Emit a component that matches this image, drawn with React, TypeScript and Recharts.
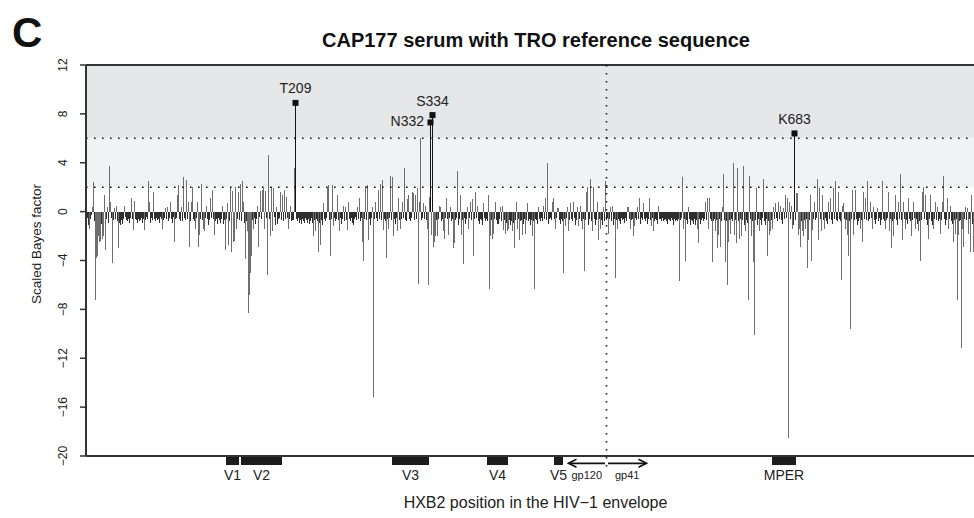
import { ComposedChart, Bar, XAxis, YAxis, ReferenceArea, ReferenceLine } from 'recharts'

const FONT = '"Liberation Sans", Arial, Helvetica, sans-serif'

// scaled Bayes factor per alignment site (sites 1-888, left to right)
const scores1 = [
  3.4, -0.5, -1.1, -1.4, -0.6, -0.3, 0.4, 2.4, -0.8, -7.2,
  -3.8, -3.6, -2.0, -2.5, -2.4, -1.0, -2.2, -2.0, 1.4, -3.1,
  -0.6, 0.4, -0.9, 3.7, 0.8, -0.5, -4.2, -0.7, 0.3, -0.6,
  0.5, -0.8, -3.0, -0.9, -1.1, -0.7, -1.0, -0.6, 0.5, -0.4,
  -0.7, -0.8, -0.6, -0.9, -0.5, 1.1, -0.6, -1.5, 0.9, -0.6,
  -0.7, -0.9, -0.6, -0.8, -0.7, -0.5, -0.9, -0.6, -1.5, -0.7,
  -0.4, -0.6, 2.5, 0.8, -0.9, -0.5, -0.7, 1.6, -0.6, -0.8,
  -0.5, -0.7, -0.6, -0.9, -0.4, -0.6, -1.4, -0.7, -0.5, 0.3,
  -0.6, 0.4, -0.8, -0.5, 0.8, -0.6, -0.9, -0.4, -2.5, -0.6,
  -0.5, 1.4, 2.2, -0.6, -0.8, 0.4, -0.8, 2.8, -0.5, -0.7,
]
const scores2 = [
  2.6, -0.6, 0.8, -2.9, -0.8, 0.8, 2.0, -0.6, -0.8, -1.4,
  -0.5, 0.8, -2.9, -1.9, -0.6, 2.3, -0.7, -1.4, -1.6, -0.5,
  0.5, -0.6, -1.1, -0.7, 1.1, -0.5, 1.8, -0.6, -1.9, -0.8,
  -0.6, -1.0, -0.5, -0.7, -0.9, -0.6, 0.5, -1.0, -0.7, -3.1,
  -0.6, 0.7, -2.7, -0.8, 1.9, -3.3, 1.7, -2.5, -2.4, 2.0,
  -1.4, -0.6, 1.6, -0.7, 2.3, -0.8, 2.5, 0.8, -0.9, -3.9,
  -0.8, -1.6, -8.3, -6.8, -5.0, -3.6, -0.7, -1.4, -0.5, -1.0,
  -0.6, 0.5, -2.9, -0.4, 1.7, -0.6, 1.8, 1.9, -1.4, 1.7,
  -0.5, -5.2, 4.6, -0.6, -2.0, 2.0, -1.6, 1.9, -0.4, -1.1,
  0.4, -1.0, -0.6, -0.5, 1.6, -0.7, 1.4, -0.8, 1.8, -0.6,
]
const scores3 = [
  1.2, -0.5, -1.4, -0.6, 0.5, -0.8, -0.7, -0.7, 3.6, 8.9,
  -0.6, -0.8, -0.5, -0.9, -0.7, -1.0, -0.6, -0.8, -0.9, -0.5,
  -0.7, -0.9, -0.6, -1.0, -0.8, -0.5, -0.9, -2.0, -0.7, -1.6,
  -0.6, -0.8, -3.3, -0.9, -2.7, -0.7, -1.1, 0.7, -0.6, -0.8,
  -0.5, 1.9, 2.2, -0.7, -3.6, -0.6, 2.2, -1.2, -0.5, -0.8,
  -0.6, 1.4, -0.7, -1.6, -0.5, -1.0, -0.6, 0.5, -0.8, 0.4,
  -0.7, -1.5, 0.8, -0.6, -0.8, -0.5, -0.9, -1.1, -0.6, -0.4,
  -0.7, 0.4, -0.6, 1.1, -0.8, -0.5, -2.5, -4.0, -0.6, 2.1,
  -0.7, 2.2, -2.3, -0.6, -1.1, -0.5, 0.4, -15.2, -0.6, 0.8,
  -0.5, -0.8, 1.8, -0.6, 2.3, -0.7, 2.6, -1.5, -0.6, -0.8,
]
const scores4 = [
  -3.8, -0.6, -1.4, -0.5, 2.9, -0.7, 2.8, -2.0, -0.6, -1.0,
  -0.5, -1.6, 1.1, -0.7, -1.4, -0.6, 0.8, -0.5, 3.6, -0.7,
  -0.8, 1.0, 1.4, -0.6, -0.8, -0.5, 1.6, 1.5, -0.7, 1.4,
  -0.6, 1.9, -5.9, 0.8, 6.0, -0.7, -0.5, 0.7, -0.6, 0.5,
  -0.7, -1.4, -6.0, 1.2, 7.3, -1.9, 7.9, -2.9, -2.5, -2.0,
  -0.7, -2.0, -0.6, 0.5, 0.4, -0.8, -0.6, -1.6, -2.2, -0.5,
  1.1, -0.6, -1.9, -0.5, 0.4, -0.8, -0.6, -3.0, -2.6, -0.7,
  -0.5, 3.3, -1.1, -0.6, 1.4, -1.9, -0.7, -4.3, -0.5, -1.0,
  -0.6, 0.4, -1.4, -0.5, 0.8, -0.7, 1.0, -3.6, -0.6, 1.6,
  -0.5, 0.5, -0.8, -1.0, -0.6, -0.7, -1.1, 0.7, -0.5, -0.8,
]
const scores5 = [
  -0.6, -0.8, 1.4, -6.3, -2.0, -0.7, -2.2, -1.8, -0.6, 0.8,
  -0.7, -1.0, -1.0, -0.6, 0.4, -0.8, 0.5, -1.5, -0.7, -1.8,
  -0.9, -1.6, -1.4, -0.7, -1.1, -0.8, -1.6, -0.9, -3.0, -0.7,
  0.8, -1.4, -0.6, -2.3, -0.8, -0.7, -1.9, -1.0, -0.6, -1.8,
  -0.7, 0.7, -0.8, -0.6, -1.1, -0.7, -2.0, -0.8, -6.3, -0.6,
  -0.7, -1.0, 0.4, -0.6, -0.8, -0.5, -0.8, 0.5, -0.6, 1.1,
  -0.7, 4.0, -1.0, -0.6, -0.5, -0.7, 0.8, 1.1, -0.6, -1.4,
  -0.5, 0.3, 0.3, -0.7, -1.0, -0.6, -0.8, -5.0, -0.6, -1.2,
  -0.5, 0.4, -1.6, -0.7, 0.7, -0.6, -0.8, 0.8, -0.5, -1.1,
  -0.7, 0.4, -1.2, -0.6, 0.5, -0.8, -1.4, -0.6, -4.9, -0.7,
]
const scores6 = [
  1.6, 2.0, -1.1, -0.6, 2.7, -0.8, -1.6, 2.0, -0.6, -1.1,
  -0.7, 0.8, -2.3, -0.6, -1.4, -0.7, -1.1, 0.4, -0.8, 2.5,
  -0.7, -0.5, -1.8, -0.6, 0.4, -0.8, 0.5, -1.1, -0.6, -5.4,
  -0.7, -1.4, -0.6, -0.8, -1.0, -0.5, -0.7, -0.6, -0.9, -0.5,
  -0.8, 0.4, 0.4, -0.6, -1.4, -0.7, -0.6, -2.0, -1.2, -0.5,
  -0.7, 0.4, -0.6, 1.1, -1.0, -0.5, -0.7, 0.7, -0.6, -0.8,
  -0.5, -1.0, -0.6, 1.1, -0.7, -1.2, -0.5, -1.6, -0.8, -0.6,
  -0.7, -1.0, 0.5, -0.6, -0.6, -0.8, -0.5, -0.8, -0.7, -0.6,
  -0.8, -1.0, -0.6, -0.7, -0.8, -0.5, -0.7, -1.1, -0.6, -0.8,
  -0.7, -0.8, -0.6, -5.7, -0.7, -0.5, 2.8, -1.4, -0.6, -4.0,
]
const scores7 = [
  -0.7, -1.0, 0.4, -0.6, -1.1, -0.7, -0.8, -1.0, -0.6, -1.1,
  -0.7, -1.4, -2.6, -0.6, -1.0, -0.7, -0.5, -0.8, -0.6, 0.8,
  -0.7, 1.1, -1.4, 1.1, -0.6, -0.8, -4.1, -0.8, -0.6, -1.6,
  -0.7, -3.0, -1.9, -0.6, -2.9, -0.8, 0.4, 3.1, -0.7, -4.1,
  -0.8, -6.0, -2.5, -0.7, -1.8, -0.6, -0.8, 4.0, -1.9, -0.7,
  -2.6, 3.6, -0.8, -2.2, -0.6, -2.0, -0.7, 3.7, -1.1, -1.6,
  -0.7, -0.9, -7.2, 2.9, -0.6, -2.0, -0.8, -4.1, -10.1, -0.7,
  1.9, -1.1, -0.6, -1.6, -0.7, -1.1, -0.5, 2.7, -0.8, -1.1,
  -0.6, -3.6, -0.8, -1.9, -1.6, -0.7, -1.4, 0.4, -0.6, 0.7,
  -0.5, -0.8, 0.8, -0.6, 0.5, -0.7, -1.0, 0.3, -0.6, 1.4,
]
const scores8 = [
  -0.5, 1.1, -18.5, 0.8, -0.6, 0.5, -1.4, -1.1, 6.4, -0.7,
  1.5, 1.5, -1.9, -1.4, -2.9, -0.8, -1.6, -2.0, -0.7, -1.4,
  -0.6, -4.6, -2.3, -0.7, 1.4, -4.0, -1.5, -0.6, 0.8, -0.7,
  -0.5, 2.7, -2.3, 1.9, -0.6, -1.6, 1.4, -0.7, -1.4, -0.5,
  -0.8, -1.0, 0.8, -0.6, 1.1, -0.7, -1.0, 1.9, -0.6, 2.5,
  -0.7, -0.8, 1.6, -0.6, -0.8, -5.6, 0.5, 0.7, -0.6, -1.4,
  -0.7, -1.9, -3.6, -0.8, -9.6, -0.6, 1.8, -1.9, -0.7, 1.8,
  -0.6, -1.1, -0.8, -0.5, -1.4, -0.7, -2.5, 1.6, -0.6, 1.1,
  -0.7, 2.5, -0.8, -0.6, 0.8, -0.5, -1.4, 0.4, -0.7, -1.0,
  -0.6, 0.3, -0.8, -0.5, -1.1, -0.7, 2.5, -0.6, -0.8, -1.4,
]
const scores9 = [
  -0.7, -0.5, 1.6, -1.6, -0.6, -3.0, -0.8, -2.0, -0.6, 1.4,
  -0.7, -1.1, 0.8, -0.6, 3.1, -0.7, -2.3, 0.8, -0.6, -1.4,
  -0.7, -1.0, 1.1, -0.6, -0.8, -2.0, -0.7, 0.8, -0.5, -1.4,
  -0.6, -1.0, -1.6, -0.8, -4.0, -0.7, 1.6, 2.0, -0.6, 1.4,
  -0.7, -1.1, -2.2, -0.6, 1.4, -0.8, -1.1, -1.4, -0.6, 0.8,
  -0.7, 0.4, -0.8, -0.6, -1.8, -0.7, 0.8, 2.9, -0.6, -1.1,
  -0.7, 1.1, -1.4, -0.6, 0.5, -0.8, -1.0, -2.5, -0.7, -1.8,
  -0.6, -7.2, -1.9, -0.8, -0.7, -11.2, -1.4, -2.9, -0.6, 0.4,
  -0.7, 0.3, -1.8, -0.6, -3.3, 1.4, -1.0, -3.3,
]

// labelled sites (alignment site -> HXB2 residue)
const hits = [
  { site: 210, tag: 'T209' },
  { site: 345, tag: 'N332' },
  { site: 347, tag: 'S334' },
  { site: 709, tag: 'K683' },
]
const leftLabelled = ['N332']

const regions = [
  { name: 'V1', from: 141, to: 153 },
  { name: 'V2', from: 156, to: 196 },
  { name: 'V3', from: 307, to: 343 },
  { name: 'V4', from: 402, to: 422 },
  { name: 'V5', from: 469, to: 477 },
  { name: 'MPER', from: 687, to: 710 },
]

const gpBoundary = 521
const gp120Start = 483
const gp41End = 561
const siteCount = 899

const yTicks = [-20, -16, -12, -8, -4, 0, 4, 8, 12]
const cutWeak = 2
const cutStrong = 6

const scores = [...scores1, ...scores2, ...scores3, ...scores4, ...scores5, ...scores6, ...scores7, ...scores8, ...scores9]
const rows = scores.map((score, i) => ({ site: i + 1, score }))
const hitTag = new Map(hits.map((h) => [h.site, h.tag]))

const minus = (v: number) => String(v).replace('-', '\u2212')

function Stem(props: any) {
  const { x, y, width, height, payload } = props
  const top = height < 0 ? y + height : y
  const h = Math.max(Math.abs(height), 0.6)
  const cx = Math.round(x + width / 2 - 0.5)
  const v = payload.score
  const tag = hitTag.get(payload.site)
  const fill = tag ? '#151515' : v < 0 && v > -1.2 ? '#2f2f2f' : '#6e6e6e'
  return (
    <g>
      <rect x={cx} y={top} width={1} height={h} fill={fill} shapeRendering="crispEdges" />
      {tag && (
        <>
          <rect x={cx - 2.5} y={y - 3} width={6} height={6} fill="#111" />
          {leftLabelled.includes(tag) ? (
            <text x={cx - 6} y={y + 4} textAnchor="end" fontSize={14} fill="#222" fontFamily={FONT}>
              {tag}
            </text>
          ) : (
            <text x={cx + 0.5} y={y - 9.5} textAnchor="middle" fontSize={14} fill="#222" fontFamily={FONT}>
              {tag}
            </text>
          )}
        </>
      )}
    </g>
  )
}

function YTick({ x, y, payload }: any) {
  const bx = x - 11.5
  return (
    <text x={bx} y={y} transform={`rotate(-90 ${bx} ${y})`} textAnchor="middle" fontSize={12} fill="#222" fontFamily={FONT}>
      {minus(payload.value)}
    </text>
  )
}

const gpArrow = (label: string) => (p: any) => {
  const { x1, y1, x2, y2 } = p
  const dir = Math.sign(x2 - x1)
  return (
    <g>
      <line x1={x1} y1={y1} x2={x2} y2={y2} stroke="#111" strokeWidth={1.6} />
      <polyline
        points={`${x2 - dir * 8},${y2 - 4} ${x2},${y2} ${x2 - dir * 8},${y2 + 4}`}
        fill="none"
        stroke="#111"
        strokeWidth={1.6}
      />
      <text x={(x1 + x2) / 2} y={y1 + 16} textAnchor="middle" fontSize={11} fill="#222" fontFamily={FONT}>
        {label}
      </text>
    </g>
  )
}

export default function App() {
  return (
    <div style={{ position: 'absolute', left: 0, top: 0, width: 974, height: 518, overflow: 'hidden', background: '#fff' }}>
      <ComposedChart width={990} height={518} data={rows} margin={{ top: 65, right: 5, bottom: 0, left: 50 }}>
        <ReferenceArea y1={cutStrong} y2={12} fill="#e6e7e9" fillOpacity={1} stroke="none" />
        <ReferenceArea y1={cutWeak} y2={cutStrong} fill="#f1f2f4" fillOpacity={1} stroke="none" />
        <XAxis
          dataKey="site"
          type="number"
          domain={[0.5, siteCount + 0.5]}
          allowDataOverflow
          tick={false}
          tickLine={false}
          axisLine={false}
          height={62}
          label={{ value: 'HXB2 position in the HIV\u22121 envelope', position: 'insideBottom', offset: 10, fontSize: 16, fill: '#222', fontFamily: FONT }}
        />
        <YAxis
          type="number"
          domain={[-20, 12]}
          ticks={yTicks}
          width={36}
          tickSize={6}
          tick={<YTick />}
          axisLine={{ stroke: '#333', strokeWidth: 2 }}
          tickLine={{ stroke: '#333', strokeWidth: 1.5 }}
        />
        <Bar dataKey="score" barSize={1} shape={<Stem />} isAnimationActive={false} />
        <ReferenceLine y={cutStrong} stroke="#111" strokeWidth={1.6} strokeDasharray="1.6 6.4" />
        <ReferenceLine y={cutWeak} stroke="#111" strokeWidth={1.6} strokeDasharray="1.6 6.4" />
        <ReferenceLine y={12} stroke="#333" strokeWidth={2} />
        <ReferenceLine y={-20} stroke="#333" strokeWidth={2} />
        <ReferenceLine
          segment={[{ x: gpBoundary, y: 12 }, { x: gpBoundary, y: -20.85 }]}
          ifOverflow="visible"
          stroke="#111"
          strokeWidth={1.6}
          strokeDasharray="1.6 6.4"
        />
        {regions.map((r) => (
          <ReferenceArea
            key={r.name}
            x1={r.from - 0.5}
            x2={r.to + 0.5}
            y1={-20}
            y2={-20.74}
            ifOverflow="visible"
            fill="#1c1c1c"
            fillOpacity={1}
            stroke="none"
            label={{ value: r.name, position: 'bottom', offset: 5, fontSize: 14, fill: '#222', fontFamily: FONT }}
          />
        ))}
        <ReferenceLine
          segment={[{ x: gpBoundary - 1.5, y: -20.6 }, { x: gp120Start, y: -20.6 }]}
          ifOverflow="visible"
          shape={gpArrow('gp120')}
        />
        <ReferenceLine
          segment={[{ x: gpBoundary + 1.5, y: -20.6 }, { x: gp41End, y: -20.6 }]}
          ifOverflow="visible"
          shape={gpArrow('gp41')}
        />
      </ComposedChart>
      <svg width={974} height={518} style={{ position: 'absolute', left: 0, top: 0, pointerEvents: 'none' }}>
        <text x={12} y={47} fontSize={42} fontWeight="bold" fill="#111" fontFamily={FONT}>
          C
        </text>
        <text x={536} y={47} textAnchor="middle" fontSize={20} fontWeight="bold" fill="#111" fontFamily={FONT}>
          CAP177 serum with TRO reference sequence
        </text>
        <text x={41} y={244} transform="rotate(-90 41 244)" textAnchor="middle" fontSize={13.5} fill="#222" fontFamily={FONT}>
          Scaled Bayes factor
        </text>
      </svg>
    </div>
  )
}
